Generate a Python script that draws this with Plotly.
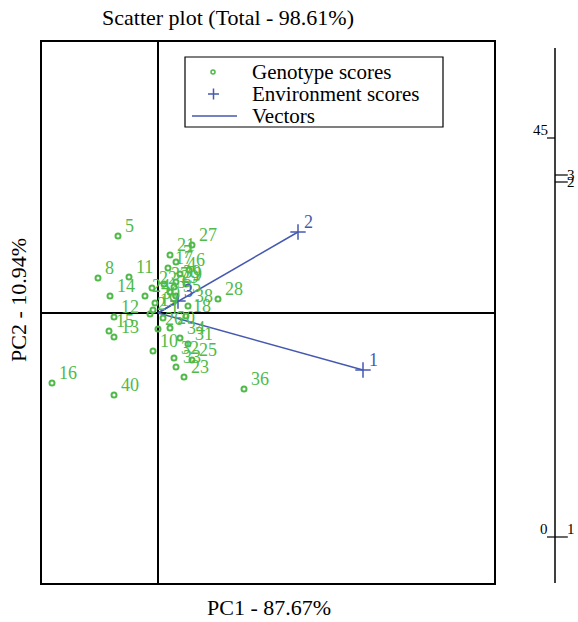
import plotly.graph_objects as go

# Genotype scores (PC1, PC2)
gen_labels = [str(i) for i in range(1, 41)]
gen_pc1 = [0.25, -0.4, 0.6, 1.1, -2.0, 1.55, 0.9, -3.0, 1.4, -0.25,
           -1.45, -2.2, -2.2, -2.4, -2.45, -5.3, 0.5, 1.4, -0.25, 0.6,
           0.6, -0.3, 1.3, -0.65, 1.7, 0.0, 1.7, 3.0, 0.8, -0.15,
           1.5, 0.8, 0.9, 1.1, 0.9, 4.3, 0.3, 1.5, 0.9, -2.2]
gen_pc2 = [-0.25, -0.05, 1.05, 1.95, 3.85, 2.15, 2.55, 1.75, 1.45, -1.9,
           1.8, -0.2, -1.2, 0.85, -0.9, -3.5, 2.25, -0.15, 0.15, -0.75,
           2.9, 1.25, -3.2, 0.85, -2.35, -0.8, 3.4, 0.7, 1.3, 0.5,
           -1.55, -2.25, -2.7, -1.25, 0.85, -3.8, 1.45, 0.35, 1.55, -4.1]

# Environment scores
env_labels = ["1", "2", "3"]
env_pc1 = [10.25, 7.0, 1.0]
env_pc2 = [-2.85, 4.05, 0.6]

# Side scale labels (right-hand axis)
side_labels = ["45", "3", "2", "0", "1"]
side_pos = [8.75, 6.9, 6.55, -11.2, -11.2]
side_side = ["left", "right", "right", "left", "right"]

# Legend entries
legend_names = ["Genotype scores", "Environment scores", "Vectors"]

GREEN = "#4fba48"
BLUE = "#4659b0"
FONT = "Liberation Serif"

fig = go.Figure()

# vectors
vx, vy = [], []
for x, y in zip(env_pc1, env_pc2):
    vx += [0, x, None]
    vy += [0, y, None]

fig.add_trace(go.Scatter(x=vx, y=vy, mode="lines", name=legend_names[2],
                         line=dict(color=BLUE, width=1.5), showlegend=False))
fig.add_trace(go.Scatter(x=gen_pc1, y=gen_pc2, mode="markers", name=legend_names[0],
                         marker=dict(symbol="circle-open", size=5, color=GREEN,
                                     line=dict(width=2, color=GREEN)), showlegend=False))
fig.add_trace(go.Scatter(x=env_pc1, y=env_pc2, mode="markers", name=legend_names[1],
                         marker=dict(symbol="cross-thin", size=11, color=BLUE,
                                     line=dict(width=1.5, color=BLUE)), showlegend=False))

W, H = 578, 622
L, R, T, B = 42, 0, 42, 39
pw = W - L - R
ph = H - T - B
xdom = (494 - L) / pw


def px(xp):
    return (xp - L) / pw


def py(yp):
    return (H - B - yp) / ph


annotations = []
# point labels
for lab, x, y in zip(gen_labels, gen_pc1, gen_pc2):
    annotations.append(dict(x=x, y=y, xref="x", yref="y", text=lab, showarrow=False,
                            xanchor="left", yanchor="middle", xshift=5, yshift=10,
                            font=dict(family=FONT, size=18, color=GREEN)))
for lab, x, y in zip(env_labels, env_pc1, env_pc2):
    annotations.append(dict(x=x, y=y, xref="x", yref="y", text=lab, showarrow=False,
                            xanchor="left", yanchor="middle", xshift=4, yshift=10,
                            font=dict(family=FONT, size=18, color=BLUE)))

shapes = []
# right-hand scale line
ax_x = px(555)
shapes.append(dict(type="line", xref="paper", yref="y", x0=ax_x, x1=ax_x,
                   y0=-13.5, y1=13.25, line=dict(color="black", width=1.5)))
tick = 8 / pw
for lab, pos, side in zip(side_labels, side_pos, side_side):
    if side == "left":
        shapes.append(dict(type="line", xref="paper", yref="y", x0=ax_x - tick, x1=ax_x,
                           y0=pos, y1=pos, line=dict(color="black", width=1.2)))
        annotations.append(dict(x=ax_x - tick + 3 / pw, y=pos, xref="paper", yref="y",
                                text=lab, showarrow=False, xanchor="right", yanchor="bottom",
                                yshift=-2,
                                font=dict(family=FONT, size=15, color="black")))
    else:
        shapes.append(dict(type="line", xref="paper", yref="y", x0=ax_x, x1=ax_x + 1.6 * tick,
                           y0=pos, y1=pos, line=dict(color="black", width=1.2)))
        annotations.append(dict(x=ax_x + 1.3 * tick, y=pos, xref="paper", yref="y", text=lab,
                                showarrow=False, xanchor="left",
                                yanchor="bottom" if lab == "1" else "middle",
                                yshift=-2 if lab == "1" else 0,
                                font=dict(family=FONT, size=15, color="black")))

# legend (drawn manually)
shapes.append(dict(type="rect", xref="paper", yref="paper", x0=px(185), x1=px(443),
                   y0=py(127), y1=py(57), line=dict(color="black", width=1.2),
                   fillcolor="white", layer="above"))
shapes.append(dict(type="circle", xref="paper", yref="paper", xsizemode="pixel",
                   ysizemode="pixel", xanchor=px(213), yanchor=py(72),
                   x0=-2, x1=2, y0=-2, y1=2, line=dict(color=GREEN, width=1.5),
                   layer="above"))
shapes.append(dict(type="line", xref="paper", yref="paper", x0=px(208), x1=px(219),
                   y0=py(94), y1=py(94), line=dict(color=BLUE, width=1.5), layer="above"))
shapes.append(dict(type="line", xref="paper", yref="paper", x0=px(213.5), x1=px(213.5),
                   y0=py(88.5), y1=py(99.5), line=dict(color=BLUE, width=1.5), layer="above"))
shapes.append(dict(type="line", xref="paper", yref="paper", x0=px(192), x1=px(237),
                   y0=py(116), y1=py(116), line=dict(color=BLUE, width=1.5), layer="above"))
for name, yy in zip(legend_names, [72, 94, 116]):
    annotations.append(dict(x=px(250), y=py(yy), xref="paper", yref="paper", text=name,
                            showarrow=False, xanchor="left", yanchor="middle",
                            font=dict(family=FONT, size=21, color="black")))

annotations.append(dict(x=px(228), y=py(17), xref="paper", yref="paper",
                        text="Scatter plot (Total - 98.61%)", showarrow=False,
                        xanchor="center", yanchor="middle",
                        font=dict(family=FONT, size=22, color="black")))
annotations.append(dict(x=px(269), y=py(607), xref="paper", yref="paper",
                        text="PC1 - 87.67%", showarrow=False,
                        xanchor="center", yanchor="middle",
                        font=dict(family=FONT, size=22, color="black")))
annotations.append(dict(x=px(18), y=py(300), xref="paper", yref="paper",
                        text="PC2 - 10.94%", showarrow=False, textangle=-90,
                        xanchor="center", yanchor="middle",
                        font=dict(family=FONT, size=22, color="black")))

fig.update_layout(
    width=W, height=H,
    margin=dict(l=L, r=R, t=T, b=B),
    paper_bgcolor="white", plot_bgcolor="white",
    xaxis=dict(domain=[0, xdom], range=[-5.8, 16.8], showgrid=False, showticklabels=False,
               ticks="", zeroline=True, zerolinecolor="black", zerolinewidth=1.5,
               showline=True, linecolor="black", linewidth=1.5, mirror=True),
    yaxis=dict(range=[-13.5, 13.55], showgrid=False, showticklabels=False, ticks="",
               zeroline=True, zerolinecolor="black", zerolinewidth=1.5,
               showline=True, linecolor="black", linewidth=1.5, mirror=True),
    shapes=shapes,
    annotations=annotations,
    showlegend=False,
)

fig.write_html("out.html")
